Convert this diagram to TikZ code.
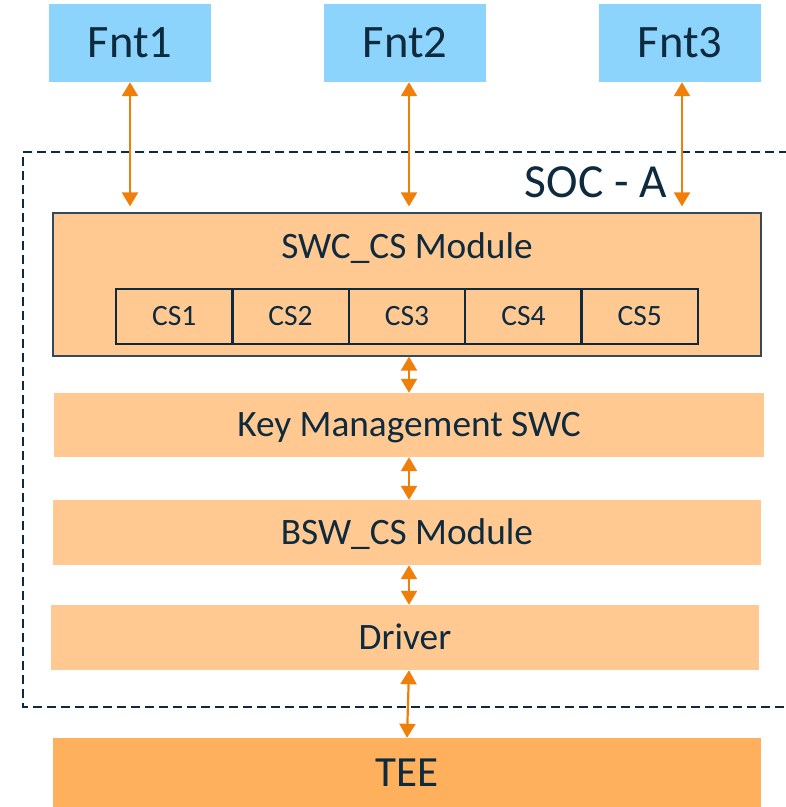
\documentclass[tikz,border=0pt]{standalone}
\usepackage{fontspec}
\setmainfont{Carlito}
\usetikzlibrary{arrows.meta}
\definecolor{txt}{HTML}{0E2A3E}
\definecolor{fntblue}{HTML}{8DD4FD}
\definecolor{layer}{HTML}{FFC991}
\definecolor{tee}{HTML}{FFB05C}
\definecolor{arr}{HTML}{F07F09}
\tikzset{
  fntbox/.style={fill=fntblue, draw=none, minimum width=162pt, minimum height=78pt, inner sep=0pt, text=txt, font=\fontsize{46.5}{50}\selectfont, text height=29.4pt, text depth=0pt},
  layerbox/.style={fill=layer, draw=none, minimum width=708pt, minimum height=65pt, inner sep=0pt, text=txt, font=\fontsize{37.3}{40}\selectfont, text height=23.6pt, text depth=-3pt},
  csbox/.style={draw=txt, line width=2.5pt, minimum width=116.4pt, minimum height=55pt, inner sep=0pt, text=txt, font=\fontsize{29.5}{32}\selectfont, text height=18.6pt, text depth=0pt},
  plaintext/.style={text=txt, inner sep=0pt, text depth=0pt},
  biarrow/.style={arr, line width=2.2pt, {Triangle[width=16pt,length=14pt]}-{Triangle[width=16pt,length=14pt]}},
  soc/.style={draw=txt, line width=2pt, dash pattern=on 9pt off 5pt}
}
\begin{document}
\begin{tikzpicture}[x=1pt,y=-1pt]
\useasboundingbox (0,0) rectangle (786,807);
\begin{scope}
\clip (0,0) rectangle (786,807);
\draw[soc] (830,152) -- (23,152) -- (23,707) -- (830,707);
\end{scope}
\node[fntbox] (fnt1) at (130,43) {Fnt1};
\node[fntbox] (fnt2) at (405,43) {Fnt2};
\node[fntbox] (fnt3) at (680,43) {Fnt3};
\node[plaintext, font=\fontsize{47.5}{50}\selectfont, text height=30pt] (soctxt) at (596,182.5) {SOC - A};
\node[layerbox, minimum height=143pt, draw=txt!85, line width=1.2pt] (swc) at (407,284.5) {};
\node[plaintext, font=\fontsize{37.3}{40}\selectfont, text height=23.6pt] (swctxt) at (407,246.5) {SWC\_CS Module};
\node[csbox] (cs1) at (174.2,316.5) {CS1};
\node[csbox] (cs2) at (290.6,316.5) {CS2};
\node[csbox] (cs3) at (407,316.5) {CS3};
\node[csbox] (cs4) at (523.4,316.5) {CS4};
\node[csbox] (cs5) at (639.8,316.5) {CS5};
\node[layerbox, minimum width=710pt, minimum height=64pt] (key) at (409,425) {Key Management SWC};
\node[layerbox] (bsw) at (407,532.5) {BSW\_CS Module};
\node[layerbox] (drv) at (405,637.5) {Driver};
\node[layerbox, fill=tee, minimum height=69pt, font=\fontsize{43}{46}\selectfont, text height=27pt, text depth=-5pt] (tee) at (407,772.5) {TEE};
\draw[biarrow, shorten >=6pt] (fnt1.south) -- (fnt1.south |- swc.north);
\draw[biarrow, shorten >=6pt] (fnt2.south) ++(4,0) coordinate (a2) -- (a2 |- swc.north);
\draw[biarrow, shorten >=6pt] (fnt3.south) ++(2,0) coordinate (a3) -- (a3 |- swc.north);
\coordinate (c1) at (409,0);
\draw[biarrow] (c1 |- swc.south) -- (c1 |- key.north);
\draw[biarrow] (c1 |- key.south) -- (c1 |- bsw.north);
\draw[biarrow] (c1 |- bsw.south) -- (c1 |- drv.north);
\coordinate (c2) at (407,0);
\draw[biarrow] (c1 |- drv.south) -- (c2 |- tee.north);
\end{tikzpicture}
\end{document}
